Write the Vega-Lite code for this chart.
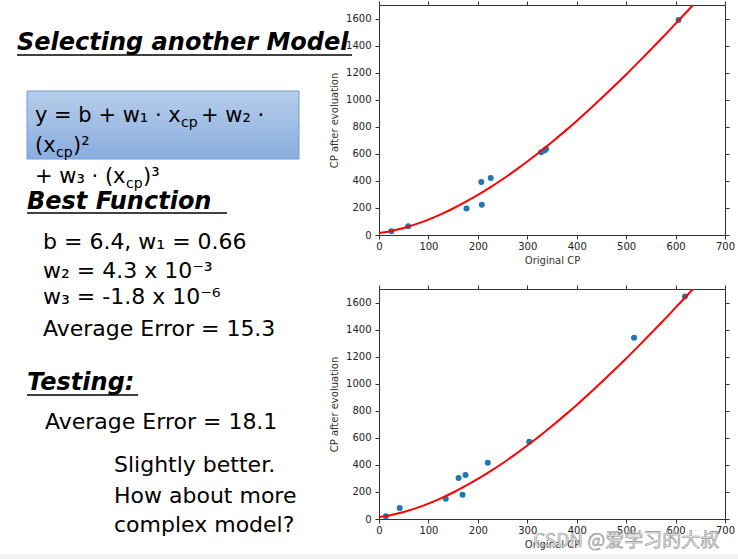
{
  "$schema": "https://vega.github.io/schema/vega-lite/v6.json",
  "padding": {"left": 0, "top": 0, "right": 0, "bottom": 0},
  "background": "white",
  "config": {
    "font": "DejaVu Sans",
    "view": {"stroke": "#333", "strokeWidth": 1},
    "axis": {
      "labelFont": "DejaVu Sans", "labelFontSize": 10, "labelColor": "#222",
      "titleFont": "DejaVu Sans", "titleFontSize": 10, "titleFontWeight": "normal", "titleColor": "#333",
      "tickColor": "#333", "tickSize": 4, "domain": false, "grid": false, "format": "d",
      "labelFlush": false, "labelOverlap": false, "labelBound": false
    }
  },
  "datasets": {
    "strip": [{"x": 0, "x2": 738, "y": 554, "y2": 563}],
    "box": [{"x": 27, "x2": 299, "y": 91, "y2": 159}],
    "ul": [
      {"x": 17, "x2": 352, "y": 55},
      {"x": 27, "x2": 227, "y": 213},
      {"x": 27, "x2": 138, "y": 395}
    ],
    "txt": [
      {"t": "Selecting another Model", "x": 17, "y": 50, "k": "h"},
      {"t": "Best Function", "x": 27, "y": 209, "k": "h"},
      {"t": "Testing:", "x": 27, "y": 390, "k": "h"},
      {"t": "y = b + w₁ · x", "x": 35, "y": 122, "k": "f"},
      {"t": "cp", "x": 181, "y": 127, "k": "s"},
      {"t": "+ w₂ ·", "x": 201, "y": 122, "k": "f"},
      {"t": "(x", "x": 35, "y": 152, "k": "f"},
      {"t": "cp", "x": 56, "y": 157, "k": "s"},
      {"t": ")²", "x": 73, "y": 152, "k": "f"},
      {"t": "+ w₃ · (x", "x": 35, "y": 183, "k": "f"},
      {"t": "cp", "x": 126, "y": 188, "k": "s"},
      {"t": ")³", "x": 143, "y": 183, "k": "f"},
      {"t": "b = 6.4, w₁ = 0.66", "x": 43, "y": 249, "k": "b"},
      {"t": "w₂ = 4.3 x 10⁻³", "x": 43, "y": 278, "k": "b"},
      {"t": "w₃ = -1.8 x 10⁻⁶", "x": 43, "y": 304, "k": "b"},
      {"t": "Average Error = 15.3", "x": 43, "y": 336, "k": "b"},
      {"t": "Average Error = 18.1", "x": 45, "y": 429, "k": "b"},
      {"t": "Slightly better.", "x": 114, "y": 472, "k": "b"},
      {"t": "How about more", "x": 114, "y": 503, "k": "b"},
      {"t": "complex model?", "x": 114, "y": 532, "k": "b"}
    ],
    "curve": [
      {"x": 0, "y": 14}, {"x": 25, "y": 30}, {"x": 50, "y": 52}, {"x": 75, "y": 80}, {"x": 100, "y": 114},
      {"x": 125, "y": 153}, {"x": 150, "y": 196}, {"x": 175, "y": 244}, {"x": 200, "y": 296},
      {"x": 225, "y": 352}, {"x": 250, "y": 412}, {"x": 275, "y": 476}, {"x": 300, "y": 543},
      {"x": 325, "y": 613}, {"x": 350, "y": 687}, {"x": 375, "y": 764}, {"x": 400, "y": 843},
      {"x": 425, "y": 925}, {"x": 450, "y": 1010}, {"x": 475, "y": 1097}, {"x": 500, "y": 1186},
      {"x": 525, "y": 1278}, {"x": 550, "y": 1371}, {"x": 575, "y": 1465}, {"x": 600, "y": 1562},
      {"x": 625, "y": 1659}, {"x": 650, "y": 1758}
    ],
    "train": [
      {"x": 25, "y": 27}, {"x": 59, "y": 65}, {"x": 177, "y": 195}, {"x": 207, "y": 392},
      {"x": 208, "y": 224}, {"x": 226, "y": 421}, {"x": 328, "y": 612}, {"x": 335, "y": 625},
      {"x": 338, "y": 635}, {"x": 606, "y": 1590}
    ],
    "test": [
      {"x": 14, "y": 20}, {"x": 42, "y": 81}, {"x": 135, "y": 150}, {"x": 161, "y": 303},
      {"x": 169, "y": 180}, {"x": 175, "y": 325}, {"x": 220, "y": 416}, {"x": 304, "y": 571},
      {"x": 516, "y": 1339}, {"x": 619, "y": 1644}
    ]
  },
  "bounds": "flush",
  "spacing": 40,
  "hconcat": [
    {
      "width": 339, "height": 514,
      "view": {"stroke": null},
      "layer": [
        {
          "data": {"name": "strip"},
          "mark": {"type": "rect", "color": "#f1f1f1"},
          "encoding": {
            "x": {"field": "x", "type": "quantitative", "scale": {"domain": [0, 339], "nice": false, "zero": false}, "axis": null},
            "x2": {"field": "x2"},
            "y": {"field": "y", "type": "quantitative", "scale": {"domain": [5, 519], "nice": false, "zero": false, "reverse": true}, "axis": null},
            "y2": {"field": "y2"}
          }
        },
        {
          "data": {"name": "box"},
          "mark": {"type": "rect", "stroke": "#6b9fd9", "strokeWidth": 1,
            "fill": {"gradient": "linear", "x1": 0, "y1": 0, "x2": 0, "y2": 1,
              "stops": [{"offset": 0, "color": "#b7cdea"}, {"offset": 1, "color": "#89addf"}]}},
          "encoding": {
            "x": {"field": "x", "type": "quantitative", "axis": null},
            "x2": {"field": "x2"},
            "y": {"field": "y", "type": "quantitative", "axis": null},
            "y2": {"field": "y2"}
          }
        },
        {
          "data": {"name": "ul"},
          "mark": {"type": "rule", "color": "#000", "strokeWidth": 1.5},
          "encoding": {
            "x": {"field": "x", "type": "quantitative", "axis": null},
            "x2": {"field": "x2"},
            "y": {"field": "y", "type": "quantitative", "axis": null}
          }
        },
        {
          "data": {"name": "txt"},
          "transform": [{"filter": "datum.k === 'h'"}],
          "mark": {"type": "text", "align": "left", "baseline": "alphabetic", "font": "DejaVu Sans", "fontSize": 24, "fontWeight": "bold", "fontStyle": "italic", "color": "#000"},
          "encoding": {
            "x": {"field": "x", "type": "quantitative", "axis": null},
            "y": {"field": "y", "type": "quantitative", "axis": null},
            "text": {"field": "t"}
          }
        },
        {
          "data": {"name": "txt"},
          "transform": [{"filter": "datum.k === 'f'"}],
          "mark": {"type": "text", "align": "left", "baseline": "alphabetic", "font": "DejaVu Sans", "fontSize": 21, "color": "#000"},
          "encoding": {
            "x": {"field": "x", "type": "quantitative", "axis": null},
            "y": {"field": "y", "type": "quantitative", "axis": null},
            "text": {"field": "t"}
          }
        },
        {
          "data": {"name": "txt"},
          "transform": [{"filter": "datum.k === 's'"}],
          "mark": {"type": "text", "align": "left", "baseline": "alphabetic", "font": "DejaVu Sans", "fontSize": 14, "color": "#000"},
          "encoding": {
            "x": {"field": "x", "type": "quantitative", "axis": null},
            "y": {"field": "y", "type": "quantitative", "axis": null},
            "text": {"field": "t"}
          }
        },
        {
          "data": {"name": "txt"},
          "transform": [{"filter": "datum.k === 'b'"}],
          "mark": {"type": "text", "align": "left", "baseline": "alphabetic", "font": "DejaVu Sans", "fontSize": 22, "color": "#000"},
          "encoding": {
            "x": {"field": "x", "type": "quantitative", "axis": null},
            "y": {"field": "y", "type": "quantitative", "axis": null},
            "text": {"field": "t"}
          }
        }
      ]
    },
    {
      "bounds": "flush",
      "spacing": 54,
      "vconcat": [
        {
          "width": 346, "height": 230,
          "resolve": {"axis": {"x": "independent", "y": "independent"}},
          "layer": [
            {
              "data": {"name": "train"},
              "mark": {"type": "point", "filled": true, "size": 36, "color": "#1f77b4", "opacity": 1},
              "encoding": {
                "x": {"field": "x", "type": "quantitative", "scale": {"domain": [0, 700], "nice": false, "zero": false},
                  "axis": {"orient": "top", "values": [0, 100, 200, 300, 400, 500, 600, 700], "labels": false, "title": null}},
                "y": {"field": "y", "type": "quantitative", "scale": {"domain": [0, 1700], "nice": false},
                  "axis": {"orient": "right", "values": [0, 200, 400, 600, 800, 1000, 1200, 1400, 1600], "labels": false, "title": null}}
              }
            },
            {
              "data": {"name": "curve"},
              "mark": {"type": "line", "color": "#ff0000", "strokeWidth": 2, "clip": true, "interpolate": "monotone"},
              "encoding": {
                "x": {"field": "x", "type": "quantitative",
                  "axis": {"orient": "bottom", "values": [0, 100, 200, 300, 400, 500, 600, 700], "title": "Original CP", "labelPadding": 2, "titlePadding": 4}},
                "y": {"field": "y", "type": "quantitative",
                  "axis": {"orient": "left", "values": [0, 200, 400, 600, 800, 1000, 1200, 1400, 1600], "title": "CP after evoluation", "labelPadding": 4, "titlePadding": 6}}
              }
            }
          ]
        },
        {
          "width": 346, "height": 230,
          "resolve": {"axis": {"x": "independent", "y": "independent"}},
          "layer": [
            {
              "data": {"name": "test"},
              "mark": {"type": "point", "filled": true, "size": 36, "color": "#1f77b4", "opacity": 1},
              "encoding": {
                "x": {"field": "x", "type": "quantitative", "scale": {"domain": [0, 700], "nice": false, "zero": false},
                  "axis": {"orient": "top", "values": [0, 100, 200, 300, 400, 500, 600, 700], "labels": false, "title": null}},
                "y": {"field": "y", "type": "quantitative", "scale": {"domain": [0, 1700], "nice": false},
                  "axis": {"orient": "right", "values": [0, 200, 400, 600, 800, 1000, 1200, 1400, 1600], "labels": false, "title": null}}
              }
            },
            {
              "data": {"name": "curve"},
              "mark": {"type": "line", "color": "#ff0000", "strokeWidth": 2, "clip": true, "interpolate": "monotone"},
              "encoding": {
                "x": {"field": "x", "type": "quantitative",
                  "axis": {"orient": "bottom", "values": [0, 100, 200, 300, 400, 500, 600, 700], "title": "Original CP", "labelPadding": 2, "titlePadding": 4}},
                "y": {"field": "y", "type": "quantitative",
                  "axis": {"orient": "left", "values": [0, 200, 400, 600, 800, 1000, 1200, 1400, 1600], "title": "CP after evoluation", "labelPadding": 4, "titlePadding": 6}}
              }
            },
            {
              "data": {"values": [{"wx": 312, "wy": -205, "label": "CSDN @爱学习的大叔"}]},
              "mark": {"type": "text", "align": "left", "baseline": "alphabetic", "font": "Noto Sans CJK SC", "fontSize": 19,
                "fill": "#ececec", "stroke": "#909090", "strokeWidth": 0.6},
              "encoding": {
                "x": {"field": "wx", "type": "quantitative", "axis": null},
                "y": {"field": "wy", "type": "quantitative", "axis": null},
                "text": {"field": "label"}
              }
            }
          ]
        }
      ]
    }
  ]
}
